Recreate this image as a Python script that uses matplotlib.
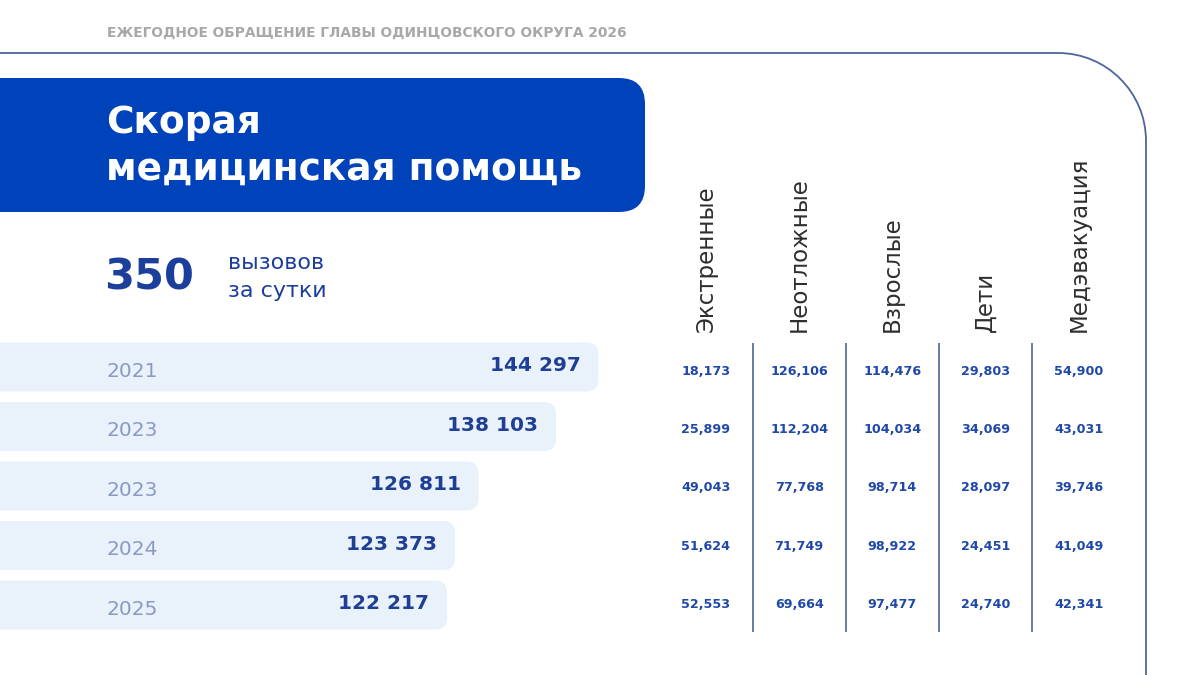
import matplotlib
matplotlib.use("Agg")
import matplotlib.pyplot as plt
from matplotlib.patches import FancyBboxPatch, PathPatch
from matplotlib.path import Path
from matplotlib.transforms import blended_transform_factory

# ---------------- data ----------------
header = "ЕЖЕГОДНОЕ ОБРАЩЕНИЕ ГЛАВЫ ОДИНЦОВСКОГО ОКРУГА 2026"
title_lines = ["Скорая", "медицинская помощь"]
daily_calls = "350"
daily_caption = ["вызовов", "за сутки"]

years = ["2021", "2023", "2023", "2024", "2025"]
totals = [144297, 138103, 126811, 123373, 122217]

columns = ["Экстренные", "Неотложные", "Взрослые", "Дети", "Медэвакуация"]
emergency = [18173, 25899, 49043, 51624, 52553]
urgent = [126106, 112204, 77768, 71749, 69664]
adults = [114476, 104034, 98714, 98922, 97477]
children = [29803, 34069, 28097, 24451, 24740]
medevac = [54900, 43031, 39746, 41049, 42341]
table_cols = [emergency, urgent, adults, children, medevac]

# ---------------- style ----------------
BLUE = "#0042B9"
BAR_FILL = "#E9F1FB"
YEAR_C = "#8A9AC4"
VAL_C = "#1E3F94"
TAB_C = "#1F48A8"
LINE_C = "#5A6FA3"
FRAME_C = "#4E64A0"
HEAD_C = "#A8A8A8"
COLHEAD_C = "#2E2E2E"

W, H = 1200, 675
fig = plt.figure(figsize=(12, 6.75), dpi=100)
fig.patch.set_facecolor("white")

bg = fig.add_axes([0, 0, 1, 1])
bg.set_xlim(0, W)
bg.set_ylim(H, 0)
bg.axis("off")

# header
bg.text(107, 33, header, fontsize=9.9, color=HEAD_C, fontweight="bold",
        family="DejaVu Sans", ha="left", va="center")

# frame line with rounded corner
r = 88
k = 0.5523 * r
xr, yt = 1146, 53
verts = [(-5, yt), (xr - r, yt), (xr - r + k, yt), (xr, yt + r - k), (xr, yt + r), (xr, H + 5)]
codes = [Path.MOVETO, Path.LINETO, Path.CURVE4, Path.CURVE4, Path.CURVE4, Path.LINETO]
bg.add_patch(PathPatch(Path(verts, codes), fill=False, edgecolor=FRAME_C, lw=1.3))

# blue title box
bg.add_patch(FancyBboxPatch((-60, 78), 60 + 645, 134,
                            boxstyle="round,pad=0,rounding_size=26",
                            facecolor=BLUE, edgecolor="none"))
bg.text(106, 123, title_lines[0], fontsize=27, color="white", fontweight="bold",
        family="DejaVu Sans", ha="left", va="center")
bg.text(106, 170, title_lines[1], fontsize=27, color="white", fontweight="bold",
        family="DejaVu Sans", ha="left", va="center")

# 350 calls
bg.text(104, 277, daily_calls, fontsize=31, color="#1D3F9C", fontweight="bold",
        family="DejaVu Sans", ha="left", va="center")
bg.text(228, 263, daily_caption[0], fontsize=16, color="#1D3F9C", fontweight="medium",
        family="DejaVu Sans", ha="left", va="center")
bg.text(228, 291, daily_caption[1], fontsize=16, color="#1D3F9C", fontweight="medium",
        family="DejaVu Sans", ha="left", va="center")

# ---------------- bars ----------------
bars = fig.add_axes([0, 0, 1, 1], facecolor="none")
vpp = 145.96           # value units per pixel
X0 = 56956             # value at left figure edge
bars.set_xlim(X0, X0 + W * vpp)
row_px = 59.5
bars.set_ylim((H - 367) / row_px, -367 / row_px)
bars.axis("off")
BASE = X0 - 60 * vpp
bar_h = 49 / row_px
rects = bars.barh(range(len(totals)), [v - BASE for v in totals], left=BASE,
                  height=bar_h, color=BAR_FILL)
rad = 12
for rect in rects:
    x, y = rect.get_x(), rect.get_y()
    w, h = rect.get_width(), rect.get_height()
    rect.set_visible(False)
    bars.add_patch(FancyBboxPatch((x, y), w, h,
                                  boxstyle=f"round,pad=0,rounding_size={rad * vpp}",
                                  mutation_aspect=(1 / row_px) / vpp,
                                  facecolor=BAR_FILL, edgecolor="none"))
ytrans = blended_transform_factory(bg.transData, bars.transData)
for i, (yr, v) in enumerate(zip(years, totals)):
    bars.text(107, i + 0.07, yr, transform=ytrans, fontsize=14.5, color=YEAR_C,
              family="DejaVu Sans", ha="left", va="center")
    bars.text(v - 18 * vpp, i - 0.02, f"{v:,}".replace(",", " "), fontsize=14.5,
              color=VAL_C, fontweight="semibold", family="DejaVu Sans",
              ha="right", va="center")

# ---------------- table ----------------
tab = fig.add_axes([0, 0, 1, 1], facecolor="none")
col_px = 93.2
tab.set_xlim(-706 / col_px, (W - 706) / col_px)
trow_px = 58.2
tab.set_ylim((H - 371.5) / trow_px, -371.5 / trow_px)
tab.axis("off")
for j in range(len(columns) - 1):
    tab.vlines(j + 0.5, -0.49, 4.48, color=LINE_C, lw=1.3)
for j, name in enumerate(columns):
    tab.text(j, -0.68, name, rotation=90, fontsize=16.5, color=COLHEAD_C,
             family="DejaVu Sans", ha="center", va="bottom")
    for i, v in enumerate(table_cols[j]):
        tab.text(j, i, f"{v:,}", fontsize=9.2, color=TAB_C, fontweight="bold",
                 family="DejaVu Sans", ha="center", va="center")

fig.savefig("out.png", dpi=100, facecolor="white")
